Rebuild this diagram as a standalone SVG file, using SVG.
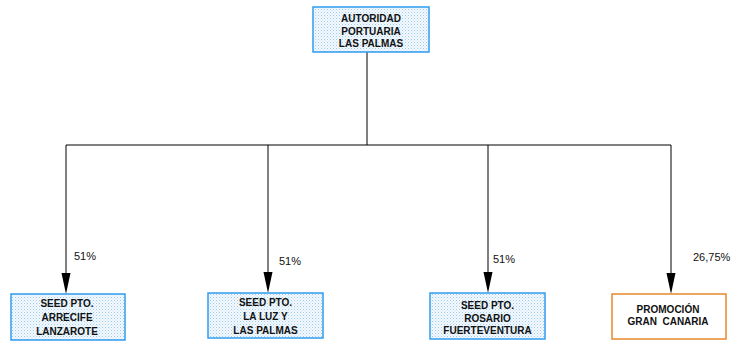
<svg xmlns="http://www.w3.org/2000/svg" width="737" height="343" viewBox="0 0 737 343">
<style>
.t{font-family:"Liberation Sans",Arial,sans-serif;font-size:10px;font-weight:bold;fill:#111;text-anchor:middle}
.p{font-family:"Liberation Sans",Arial,sans-serif;font-size:11px;fill:#111}
.b{fill:url(#dots);stroke:#2f9cf0;stroke-width:1.5}
.o{fill:#fff;stroke:#e8892a;stroke-width:1.5}
.c{stroke:#000;stroke-width:1;fill:none}
</style>
<defs>
<pattern id="dots" width="3" height="3" patternUnits="userSpaceOnUse">
<rect width="3" height="3" fill="#f4f9fe"/>
<rect x="0" y="0" width="1" height="1" fill="#9ccbee"/>
<rect x="1.5" y="1.5" width="1" height="1" fill="#bcdcf4"/>
</pattern>
<marker id="ah" markerWidth="10" markerHeight="22" refX="5" refY="21" orient="auto-start-reverse" markerUnits="userSpaceOnUse" viewBox="0 0 10 22">
<path d="M0.5,0 L9.5,0 L5,21 Z" fill="#000"/>
</marker>
</defs>
<g id="connectors">
<path class="c" d="M367,52 V145"/>
<path class="c" d="M66,145 H671"/>
<path class="c" d="M66,145 V273" />
<path class="c" d="M268,145 V272"/>
<path class="c" d="M488,145 V272"/>
<path class="c" d="M671,145 V273"/>
<path d="M61.5,273 L70.5,273 L66,294 Z"/>
<path d="M263.5,272 L272.5,272 L268,293 Z"/>
<path d="M483.5,272 L492.5,272 L488,293 Z"/>
<path d="M666.5,273 L675.5,273 L671,294 Z"/>
<text class="p" x="74" y="260">51%</text>
<text class="p" x="279" y="265">51%</text>
<text class="p" x="493" y="263">51%</text>
<text class="p" x="693" y="261">26,75%</text>
</g>
<g id="n0">
<rect class="b" x="313" y="7" width="116" height="45"/>
<text class="t" x="371" y="22">AUTORIDAD</text>
<text class="t" x="371" y="34.5">PORTUARIA</text>
<text class="t" x="371" y="46.5">LAS PALMAS</text>
</g>
<g id="n1">
<rect class="b" x="11" y="294" width="114" height="46"/>
<text class="t" x="67" y="306.5">SEED PTO.</text>
<text class="t" x="67" y="321">ARRECIFE</text>
<text class="t" x="67" y="334.5">LANZAROTE</text>
</g>
<g id="n2">
<rect class="b" x="208" y="293" width="115" height="45"/>
<text class="t" x="265.5" y="305.5">SEED PTO.</text>
<text class="t" x="265.5" y="319.5">LA LUZ Y</text>
<text class="t" x="265.5" y="333.5">LAS PALMAS</text>
</g>
<g id="n3">
<rect class="b" x="430" y="293" width="115" height="46"/>
<text class="t" x="487.5" y="308.5">SEED PTO.</text>
<text class="t" x="487.5" y="321.5">ROSARIO</text>
<text class="t" x="487.5" y="334">FUERTEVENTURA</text>
</g>
<g id="n4">
<rect class="o" x="612" y="294" width="114" height="45"/>
<text class="t" x="668" y="312.5">PROMOCIÓN</text>
<text class="t" x="668" y="324.5" xml:space="preserve">GRAN  CANARIA</text>
</g>
</svg>
